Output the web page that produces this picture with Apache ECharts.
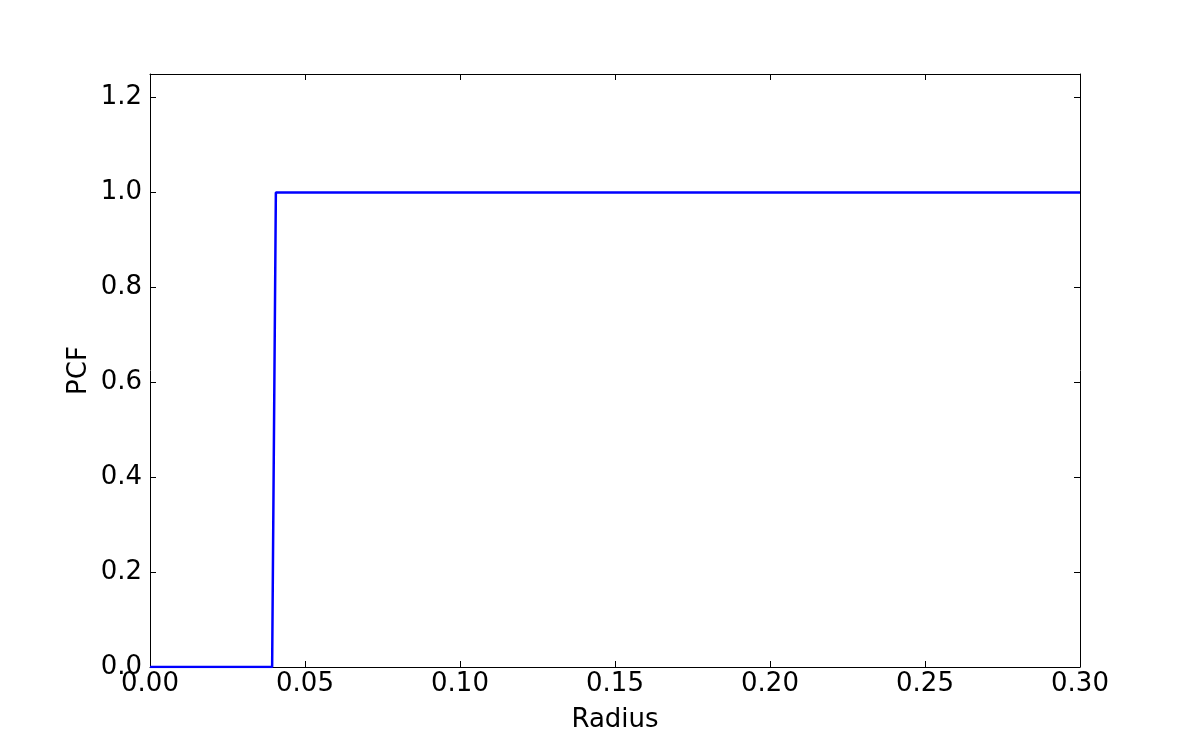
<!DOCTYPE html>
<html>
<head>
<meta charset="utf-8">
<title>PCF</title>
<script src="https://cdn.jsdelivr.net/npm/echarts@6/dist/echarts.min.js"></script>
<style>
	html,body{margin:0;padding:0;background:#ffffff;}
	#main{width:1200px;height:741px;}
</style>
</head>
<body>
<div id="main"></div>
<script>
// 数据: 半径 与 PCF 值
var radius=[0, 0.0394, 0.0406, 0.3];
var pcf=[0, 0, 1.0, 1.0];
// 刻度
var xTicks=[0, 0.05, 0.10, 0.15, 0.20, 0.25, 0.30];
var yTicks=[0, 0.2, 0.4, 0.6, 0.8, 1.0, 1.2];

var points=[];
for(var i=0;i<radius.length;i++){
	points.push([radius[i],pcf[i]]);
}

var font="DejaVu Sans";
var lineStyle={color:"#000000",width:1};

var myChart=echarts.init(document.getElementById("main"));
var option={
	animation:false,
	backgroundColor:"#ffffff",
	grid:{left:150,right:120,top:74,bottom:74,containLabel:false},
	xAxis:[{
		type:"value",
		position:"bottom",
		min:0,max:0.3,interval:0.05,
		name:"Radius",
		nameLocation:"middle",
		nameGap:40,
		nameMoveOverlap:false,
		nameTextStyle:{fontFamily:font,fontSize:26,color:"#000000"},
		axisLine:{show:true,onZero:false,lineStyle:lineStyle},
		axisTick:{show:true,inside:true,length:6,lineStyle:lineStyle},
		axisLabel:{margin:4,fontFamily:font,fontSize:26,color:"#000000",
			formatter:function(v){return v.toFixed(2);}},
		splitLine:{show:false}
	},{
		type:"value",
		position:"top",
		min:0,max:0.3,interval:0.05,
		axisLine:{show:true,onZero:false,lineStyle:lineStyle},
		axisTick:{show:true,inside:true,length:6,lineStyle:lineStyle},
		axisLabel:{show:false},
		splitLine:{show:false}
	}],
	yAxis:[{
		type:"value",
		position:"left",
		min:0,max:1.25,interval:0.2,
		name:"PCF",
		nameLocation:"middle",
		nameGap:58,
		nameMoveOverlap:false,
		nameRotate:90,
		nameTextStyle:{fontFamily:font,fontSize:26,color:"#000000"},
		axisLine:{show:true,onZero:false,lineStyle:lineStyle},
		axisTick:{show:true,inside:true,length:6,lineStyle:lineStyle,customValues:yTicks},
		axisLabel:{margin:8,fontFamily:font,fontSize:26,color:"#000000",customValues:yTicks,
			formatter:function(v){return v.toFixed(1);}},
		splitLine:{show:false}
	},{
		type:"value",
		position:"right",
		min:0,max:1.25,interval:0.2,
		axisLine:{show:true,onZero:false,lineStyle:lineStyle},
		axisTick:{show:true,inside:true,length:6,lineStyle:lineStyle,customValues:yTicks},
		axisLabel:{show:false},
		splitLine:{show:false}
	}],
	series:[{
		type:"line",
		data:points,
		showSymbol:false,
		symbol:"none",
		lineStyle:{color:"#0000ff",width:2.5},
		z:5
	}]
};
myChart.setOption(option);
</script>
</body>
</html>
